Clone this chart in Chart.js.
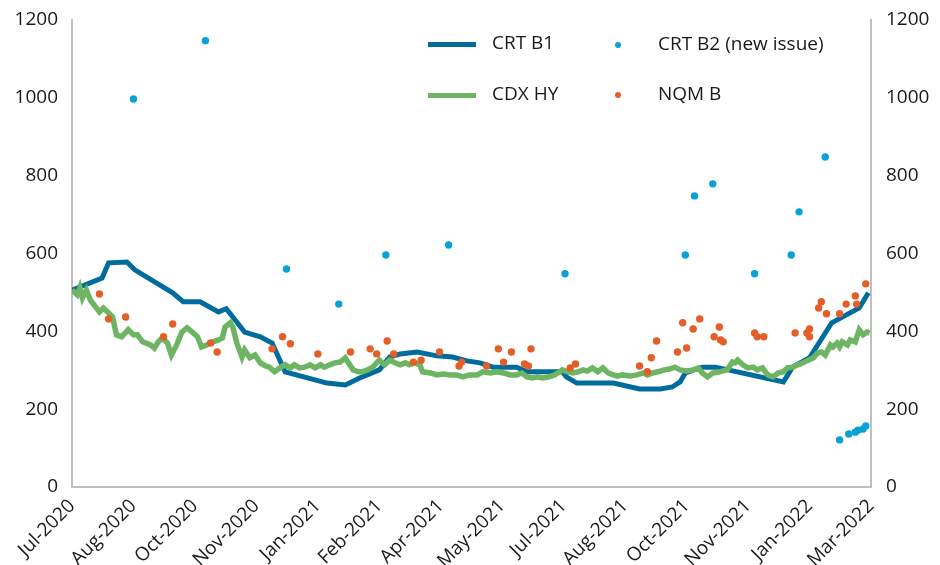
<!DOCTYPE html>
<html>
<head>
<meta charset="utf-8">
<script src="https://cdn.jsdelivr.net/npm/chart.js@4.4.0/dist/chart.umd.min.js"></script>
<style>
body{margin:0;background:#fff;}
#wrap{position:relative;width:940px;height:565px;font-family:'Open Sans',sans-serif;}
.leg{position:absolute;font-size:19px;color:#1a1a1a;line-height:20px;white-space:nowrap;}
.sw{position:absolute;}
</style>
</head>
<body>
<div id="wrap">
<canvas id="myChart" width="940" height="565"></canvas>
<div id="legend"></div>
</div>
<script>
// x values are days counted from 1 Jul 2020
var tickLabels = ['Jul-2020','Aug-2020','Oct-2020','Nov-2020','Jan-2021','Feb-2021','Apr-2021',
  'May-2021','Jul-2021','Aug-2021','Oct-2021','Nov-2021','Jan-2022','Mar-2022'];
var yTicks = [0, 200, 400, 600, 800, 1000, 1200];

var crtB1Days = [0,23,28,42,48,77,85,98,112,118,132,144,153,163,195,209,220,235,243,251,264,279,291,302,312,322,340,348,375,378,386,414,434,450,459,465,469,482,492,544,551,564,581,602,609];
var crtB1 = [506,537,576,578,558,499,476,476,450,458,398,386,370,296,267,262,280,301,334,342,347,337,334,324,319,308,308,296,296,283,267,267,252,252,257,270,293,308,308,270,308,332,422,460,499];

var cdxDays = [0,4,6,8,11,14,18,21,24,28,31,34,38,43,47,50,54,60,63,66,69,73,76,80,84,88,92,96,99,103,108,112,115,117,121,123,126,130,132,136,140,144,148,151,
  155,159,163,167,170,174,178,182,186,190,193,197,201,205,209,211,215,219,222,226,230,233,235,239,243,247,251,255,258,262,266,268,274,279,284,289,294,299,304,
  310,314,320,325,330,335,340,344,348,352,356,360,365,369,373,375,379,383,387,391,394,398,402,406,410,414,417,421,427,432,437,440,444,448,453,457,
  461,465,470,475,479,482,486,490,495,501,505,507,509,513,517,521,524,528,532,536,540,544,547,551,555,559,563,567,570,573,576,580,582,585,587,589,593,595,599,602,605,608,610];
var cdxHY = [506,494,512,486,506,481,463,450,460,447,437,391,386,404,391,391,373,365,357,373,383,370,339,365,398,409,398,386,360,365,373,378,383,411,422,411,370,334,352,332,339,319,311,308,
  296,306,314,306,314,306,308,314,306,314,308,314,319,321,332,321,301,296,296,301,308,319,326,314,326,319,314,319,314,319,314,296,293,288,290,288,288,283,288,
  288,296,293,296,293,288,288,293,283,280,283,280,283,288,296,301,296,293,296,301,298,306,296,306,293,288,285,288,285,288,293,288,293,296,301,303,
  308,301,298,301,306,293,283,293,296,301,321,319,326,314,306,308,301,306,288,283,293,296,306,308,314,319,326,332,344,347,339,365,360,370,360,373,365,378,373,404,391,398,396];

var crtB2Days = [47,102,164,204,240,288,377,469,476,490,522,550,556,576,587,594,599,601,605,607];
var crtB2 = [997,1147,560,470,596,622,548,596,748,779,548,596,707,848,121,136,141,146,149,157];

var nqmDays = [21,28,41,70,77,106,111,153,161,167,188,213,228,233,241,246,261,267,281,296,298,317,326,330,336,346,349,351,381,385,
  434,440,443,447,463,470,467,475,480,491,495,496,498,522,524,529,553,562,564,564,571,573,577,587,592,599,600,607];
var nqmB = [496,432,437,386,419,370,347,355,386,368,342,347,355,342,375,342,321,326,347,311,321,311,355,321,347,316,311,355,306,316,
  311,296,332,375,347,357,422,406,432,386,411,378,373,396,386,386,396,396,406,386,460,476,445,445,470,491,470,522];

function pts(xs, ys){
  return xs.map(function(x, i){ return {x: x, y: ys[i]}; });
}

var blue = '#006c9e', green = '#6db563', cyan = '#0aa2d6', orange = '#e55d27', axisGrey = '#bfbfbf';

Chart.defaults.font.family = "'Open Sans', sans-serif";
Chart.defaults.font.size = 19;
Chart.defaults.color = '#1a1a1a';

var ctx = document.getElementById('myChart').getContext('2d');
var myChart = new Chart(ctx, {
  type: 'line',
  data: {
    datasets: [
      {label: 'CRT B1', data: pts(crtB1Days, crtB1), borderColor: blue, borderWidth: 5, pointRadius: 0, order: 4, yAxisID: 'y'},
      {label: 'CDX HY', data: pts(cdxDays, cdxHY), borderColor: green, borderWidth: 5.5, pointRadius: 0, order: 3, yAxisID: 'y'},
      {label: 'CRT B2 (new issue)', data: pts(crtB2Days, crtB2), showLine: false, pointRadius: 3.7, pointBorderWidth: 0, backgroundColor: cyan, pointBackgroundColor: cyan, order: 1, yAxisID: 'y'},
      {label: 'NQM B', data: pts(nqmDays, nqmB), showLine: false, pointRadius: 3.7, pointBorderWidth: 0, backgroundColor: orange, pointBackgroundColor: orange, order: 2, yAxisID: 'y'}
    ]
  },
  options: {
    responsive: false,
    animation: false,
    layout: {padding: {top: 20, left: 0, right: 0, bottom: 0}},
    plugins: {legend: {display: false}, tooltip: {enabled: false}},
    scales: {
      x: {
        type: 'linear', min: 0, max: 611,
        grid: {display: false},
        border: {color: axisGrey, width: 2},
        ticks: {stepSize: 47, autoSkip: false, maxRotation: 45, minRotation: 45, padding: 0,
          callback: function(v){ return tickLabels[Math.round(v / 47)]; }},
        afterFit: function(s){ s.height = 78; }
      },
      y: {
        position: 'left', min: 0, max: 1200,
        grid: {display: false},
        border: {color: axisGrey, width: 2},
        ticks: {stepSize: 200, padding: 6, callback: function(v){ return String(v); }},
        afterBuildTicks: function(s){ s.ticks = yTicks.map(function(v){ return {value: v}; }); },
        afterFit: function(s){ s.width = 72; }
      },
      y2: {
        position: 'right', min: 0, max: 1200,
        grid: {display: false},
        border: {color: axisGrey, width: 2},
        ticks: {stepSize: 200, padding: 7, callback: function(v){ return String(v); }},
        afterBuildTicks: function(s){ s.ticks = yTicks.map(function(v){ return {value: v}; }); },
        afterFit: function(s){ s.width = 69; }
      }
    }
  }
});

// legend laid over the plot, 2 x 2
var legendItems = [
  {ds: 0, kind: 'line', x: 428, y: 44},
  {ds: 2, kind: 'dot', x: 618, y: 45},
  {ds: 1, kind: 'line', x: 428, y: 95},
  {ds: 3, kind: 'dot', x: 618, y: 95}
];
var legendBox = document.getElementById('legend');
legendItems.forEach(function(it){
  var d = myChart.data.datasets[it.ds];
  var sw = document.createElement('div');
  sw.className = 'sw';
  if (it.kind == 'line') {
    sw.style.cssText = 'left:' + it.x + 'px;top:' + (it.y - 2.5) + 'px;width:48px;height:5px;background:' + d.borderColor;
  } else {
    sw.style.cssText = 'left:' + (it.x - 3) + 'px;top:' + (it.y - 3) + 'px;width:6px;height:6px;border-radius:50%;background:' + d.pointBackgroundColor;
  }
  legendBox.appendChild(sw);
  var t = document.createElement('div');
  t.className = 'leg';
  t.textContent = d.label;
  t.style.left = (it.kind == 'line' ? it.x + 64 : it.x + 40) + 'px';
  t.style.top = (it.y - 12) + 'px';
  legendBox.appendChild(t);
});
</script>
</body>
</html>
